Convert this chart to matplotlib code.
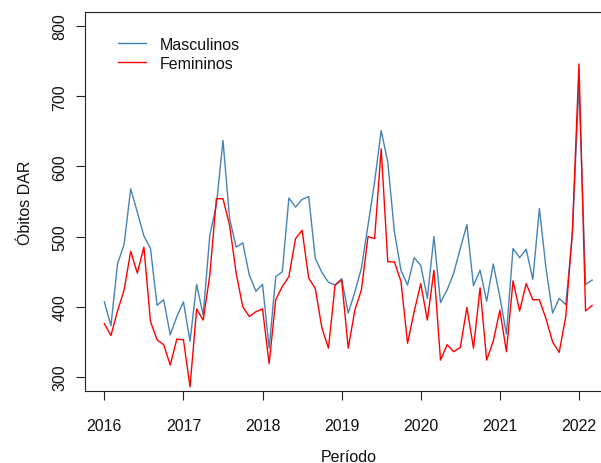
import matplotlib
matplotlib.use("Agg")
import matplotlib.pyplot as plt
import numpy as np

plt.rcParams['font.family'] = ['Liberation Sans', 'DejaVu Sans']

start_year = 2016
masculinos = [407, 373, 461, 489, 568, 535, 501, 483, 402, 410, 360, 386,
              407, 351, 432, 388, 502, 545, 637, 526, 485, 491, 445, 422,
              432, 341, 443, 450, 555, 542, 553, 557, 469, 449, 435, 431,
              440, 391, 421, 455, 516, 578, 651, 606, 507, 452, 431, 470,
              459, 412, 500, 406, 424, 448, 483, 517, 430, 452, 408, 461,
              414, 361, 483, 470, 482, 439, 540, 455, 391, 412, 403, 502,
              718, 432, 438]
femininos = [376, 359, 394, 424, 479, 448, 485, 379, 353, 346, 317, 354,
             353, 286, 397, 381, 445, 554, 554, 516, 448, 400, 386, 393,
             397, 319, 410, 429, 443, 497, 509, 441, 426, 370, 341, 431,
             438, 341, 395, 424, 500, 497, 625, 464, 464, 436, 348, 393,
             433, 381, 452, 324, 346, 336, 342, 399, 341, 427, 324, 351,
             395, 336, 437, 394, 433, 410, 410, 383, 350, 335, 386, 507,
             746, 394, 402]
x_ticks = [2016, 2017, 2018, 2019, 2020, 2021, 2022]
y_ticks = [300, 400, 500, 600, 700, 800]

t = start_year + np.arange(len(masculinos)) / 12.0

W, H = 601, 464
FS = 11.5
fig = plt.figure(figsize=(W / 100, H / 100), dpi=100)
ax = fig.add_axes([84.8 / W, 72 / H, (611.7 - 84.8) / W, 379 / H])

ax.plot(t, masculinos, color='steelblue', lw=1.0, label='Masculinos')
ax.plot(t, femininos, color='red', lw=1.0, label='Femininos')

ax.set_xlim(2015.753, 2022.414)
ax.set_ylim(280, 820)
ax.set_xticks(x_ticks)
ax.set_xticklabels([str(v) for v in x_ticks])
ax.set_yticks(y_ticks)
ax.set_yticklabels([str(v) for v in y_ticks], rotation=90, va='center')

for s in ax.spines.values():
    s.set_color('#222222')
    s.set_linewidth(0.8)
ax.tick_params(axis='both', direction='out', length=6.2, width=0.8,
               color='#222222', labelsize=FS, labelcolor='#111111')
ax.tick_params(axis='x', pad=13.5)
ax.tick_params(axis='y', pad=6.5)

ax.set_xlabel('Período', fontsize=FS, color='#111111')
ax.set_ylabel('Óbitos DAR', fontsize=FS, color='#111111')
ax.xaxis.set_label_coords(0.5, -0.152)
ax.yaxis.set_label_coords(-0.098, 0.5)

leg = ax.legend(loc='upper left', bbox_to_anchor=(118 / W, 1 - 38 / H),
                bbox_transform=fig.transFigure, frameon=False, fontsize=FS,
                handlelength=1.75, handletextpad=0.875, borderpad=0,
                borderaxespad=0, labelspacing=0.25)
for txt in leg.get_texts():
    txt.set_color('#111111')

fig.savefig('out.png', dpi=100)
